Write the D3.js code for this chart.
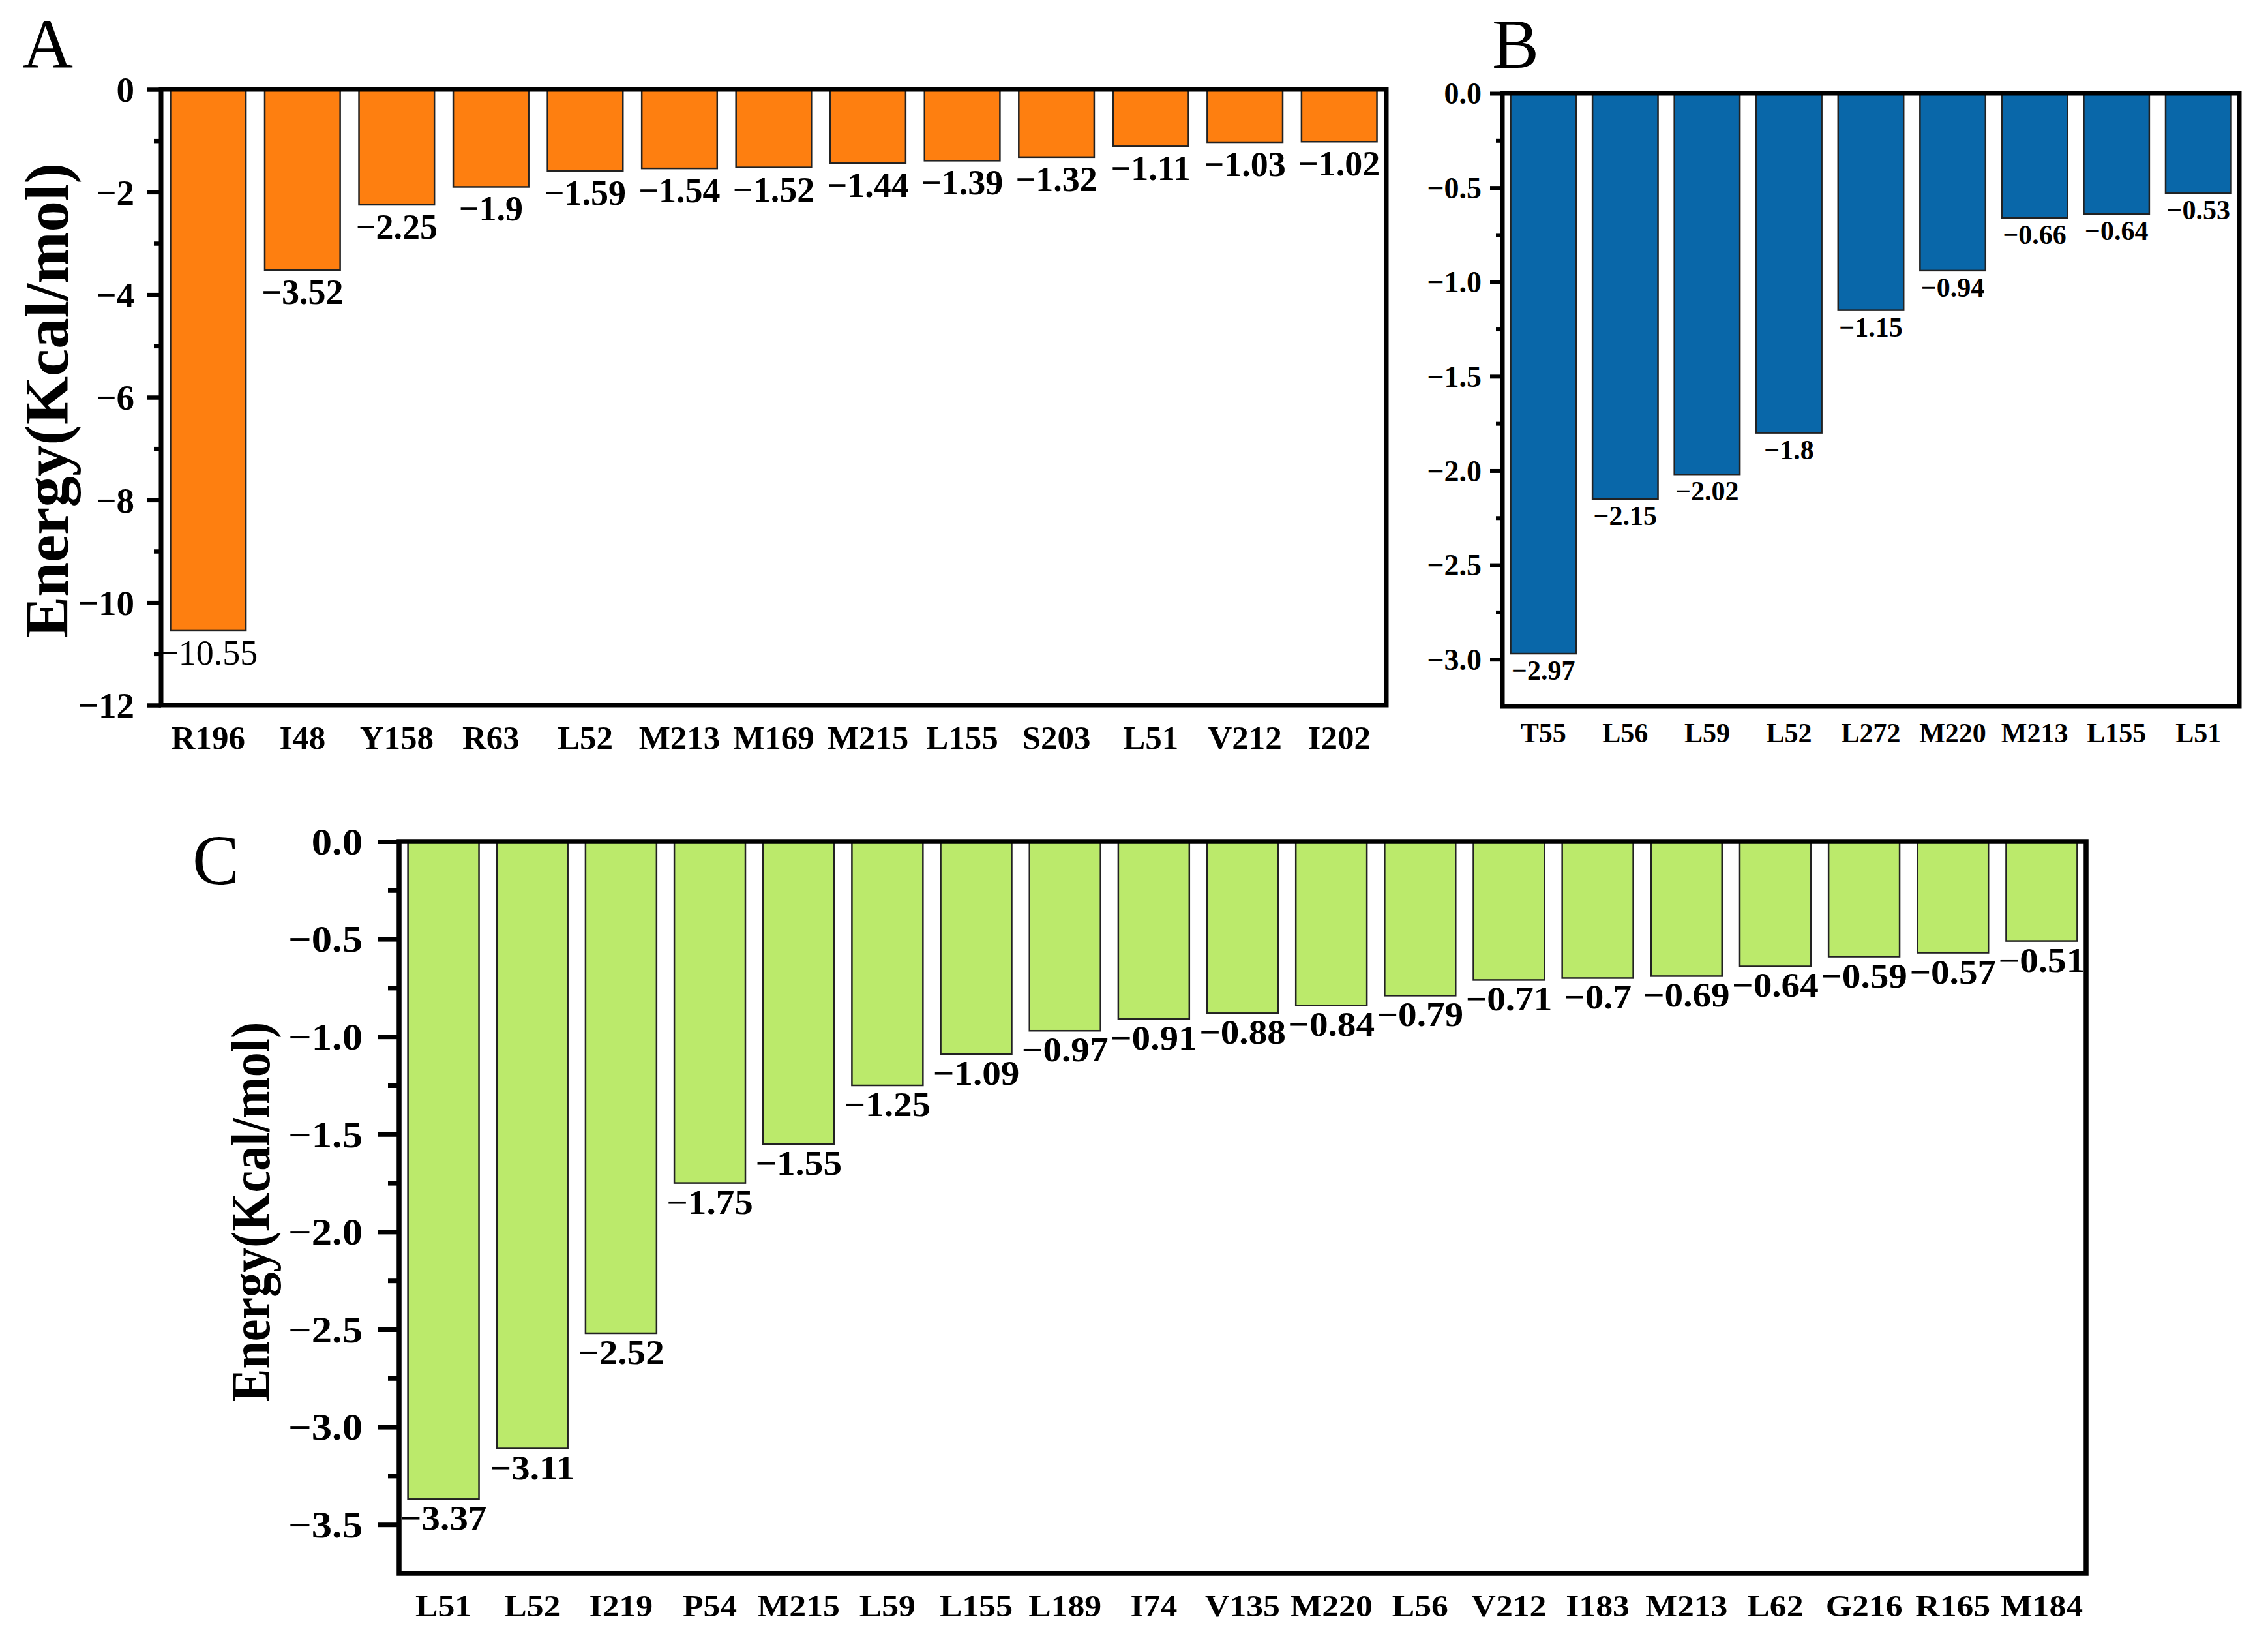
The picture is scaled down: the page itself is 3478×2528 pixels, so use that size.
<!DOCTYPE html>
<html><head><meta charset="utf-8">
<script src="https://cdn.jsdelivr.net/npm/d3@7/dist/d3.min.js"></script>
<style>
html,body{margin:0;padding:0;background:#fff;}
svg text{font-family:"Liberation Serif","Times New Roman",serif;}
</style>
</head><body>
<svg id="chart" width="3478" height="2528"></svg>
<script>
// ---- data ----
const catsA = ["R196","I48","Y158","R63","L52","M213","M169","M215","L155","S203","L51","V212","I202"];
const valsA = [-10.55,-3.52,-2.25,-1.9,-1.59,-1.54,-1.52,-1.44,-1.39,-1.32,-1.11,-1.03,-1.02];
const ticksA = [0,-2,-4,-6,-8,-10,-12];

const catsB = ["T55","L56","L59","L52","L272","M220","M213","L155","L51"];
const valsB = [-2.97,-2.15,-2.02,-1.8,-1.15,-0.94,-0.66,-0.64,-0.53];
const ticksB = [0,-0.5,-1.0,-1.5,-2.0,-2.5,-3.0];

const catsC = ["L51","L52","I219","P54","M215","L59","L155","L189","I74","V135","M220","L56","V212","I183","M213","L62","G216","R165","M184"];
const valsC = [-3.37,-3.11,-2.52,-1.75,-1.55,-1.25,-1.09,-0.97,-0.91,-0.88,-0.84,-0.79,-0.71,-0.7,-0.69,-0.64,-0.59,-0.57,-0.51];
const ticksC = [0,-0.5,-1.0,-1.5,-2.0,-2.5,-3.0,-3.5];

const svg = d3.select("#chart");
const minus = s => s.replace("-", "\u2212");

function panel(cfg){
  const g = svg.append("g");
  const x = d3.scaleBand().domain(cfg.cats).range([cfg.left, cfg.right]).paddingInner(0.2).paddingOuter(0.1);
  const y = d3.scaleLinear().domain(cfg.domain).range([cfg.top, cfg.bottom]);
  const sx = cfg.stretch || 1;
  const data = cfg.cats.map((c,i)=>({c, v: cfg.vals[i]}));

  // bars
  g.selectAll("rect.bar").data(data).enter().append("rect")
    .attr("class","bar")
    .attr("x", d=>x(d.c)).attr("width", x.bandwidth())
    .attr("y", y(0)).attr("height", d=>y(d.v)-y(0))
    .attr("fill", cfg.color).attr("stroke","#222").attr("stroke-width",2.5);

  // bar value labels
  g.selectAll("text.val").data(data).enter().append("text")
    .attr("class","val")
    .attr("transform", d=>`translate(${x(d.c)+x.bandwidth()/2},${y(d.v)+cfg.valOff}) scale(${sx},1)`)
    .attr("text-anchor","middle")
    .attr("font-size", cfg.valFont)
    .attr("font-weight", d => d.v < -10 ? "normal" : "bold")
    .text(d=>minus(String(d.v)));

  // minor ticks
  const minor = [];
  for (let i=0;i<cfg.ticks.length-1;i++) minor.push((cfg.ticks[i]+cfg.ticks[i+1])/2);
  const gMinor = g.append("g").attr("transform",`translate(${cfg.left},0)`)
    .call(d3.axisLeft(y).tickValues(minor).tickSize(cfg.minorLen).tickFormat(""));
  gMinor.select(".domain").remove();
  gMinor.selectAll("line").attr("stroke","#000").attr("stroke-width",cfg.tickW);

  // major ticks
  const gMaj = g.append("g").attr("transform",`translate(${cfg.left},0)`)
    .call(d3.axisLeft(y).tickValues(cfg.ticks).tickSize(cfg.majorLen).tickPadding(cfg.tickPad).tickFormat(cfg.fmt));
  gMaj.select(".domain").remove();
  gMaj.selectAll("line").attr("stroke","#000").attr("stroke-width",cfg.tickW);
  gMaj.selectAll("text")
    .attr("font-size", cfg.tickFont).attr("font-weight","bold").attr("fill","#000")
    .attr("font-family",'"Liberation Serif","Times New Roman",serif')
    .attr("dy", "0.34em")
    .each(function(){
      const t = d3.select(this);
      const xx = +t.attr("x");
      t.attr("x", xx/sx).attr("transform", `scale(${sx},1)`);
    });

  // x axis labels
  const gx = g.append("g").attr("transform",`translate(0,${cfg.bottom})`)
    .call(d3.axisBottom(x).tickSize(0).tickPadding(0));
  gx.select(".domain").remove();
  gx.selectAll("text").remove();
  gx.selectAll(".tick").append("text")
    .attr("transform", `translate(0,${cfg.xLabOff}) scale(${sx},1)`)
    .attr("text-anchor","middle")
    .attr("font-size", cfg.xFont).attr("font-weight","bold").attr("fill","#000")
    .attr("font-family",'"Liberation Serif","Times New Roman",serif')
    .text(d=>d);

  // frame
  g.append("rect")
    .attr("x", cfg.left).attr("y", cfg.top)
    .attr("width", cfg.right-cfg.left).attr("height", cfg.bottom-cfg.top)
    .attr("fill","none").attr("stroke","#000").attr("stroke-width",cfg.frameW);

  // panel letter
  svg.append("text").attr("x", cfg.letterX).attr("y", cfg.letterY)
    .attr("font-size", cfg.letterFont).attr("fill","#000").text(cfg.letter);

  if (cfg.ylabel){
    svg.append("text")
      .attr("transform", `translate(${cfg.ylabX},${cfg.ylabY}) scale(${sx},1) rotate(-90)`)
      .attr("text-anchor","middle").attr("dominant-baseline","central")
      .attr("font-size", cfg.ylabFont).attr("font-weight","bold").attr("fill","#000")
      .text(cfg.ylabel);
  }
}

const fmtInt = d => minus(d3.format("d")(d));
const fmt1 = d => minus(d3.format(".1f")(d));

panel({cats:catsA, vals:valsA, ticks:ticksA, domain:[0,-12],
  left:247, right:2126, top:137, bottom:1081, color:"#fe7f10",
  valOff:52, valFont:54, tickFont:55, xFont:51, xLabOff:67,
  majorLen:22, minorLen:11, tickPad:19, tickW:6.5, frameW:7, fmt:fmtInt,
  letter:"A", letterX:34, letterY:104, letterFont:108,
  ylabel:"Energy(Kcal/mol)", ylabX:72, ylabY:614, ylabFont:95});

panel({cats:catsB, vals:valsB, ticks:ticksB, domain:[0,-3.25],
  left:2304, right:3434, top:143, bottom:1083, color:"#0967a9",
  valOff:40, valFont:42, tickFont:46, xFont:42, xLabOff:55,
  majorLen:19, minorLen:10, tickPad:13, tickW:6, frameW:7, fmt:fmt1,
  letter:"B", letterX:2288, letterY:104, letterFont:108});

panel({cats:catsC, vals:valsC, ticks:ticksC, domain:[0,-3.75],
  left:612, right:3199, top:1290, bottom:2412, color:"#bbea6b",
  valOff:47, valFont:52, tickFont:57, xFont:47, xLabOff:66,
  majorLen:32, minorLen:17, tickPad:24, tickW:7, frameW:7.5, fmt:fmt1, stretch:1.1,
  letter:"C", letterX:295, letterY:1355, letterFont:108,
  ylabel:"Energy(Kcal/mol)", ylabX:385, ylabY:1858, ylabFont:76});
</script>
</body></html>
